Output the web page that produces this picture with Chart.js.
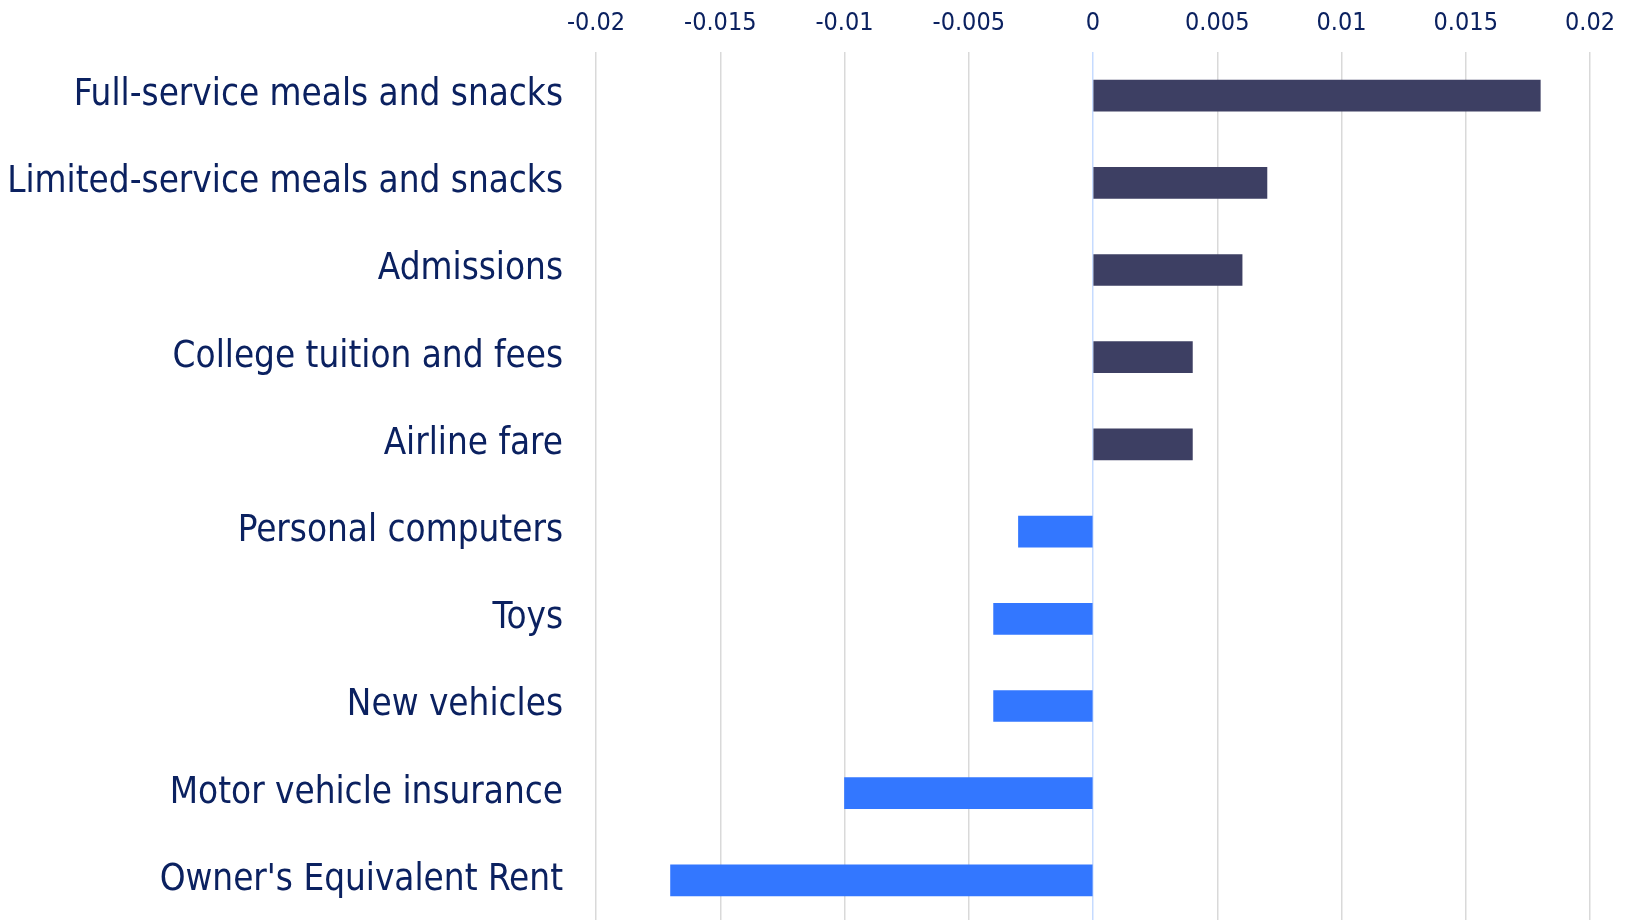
<!DOCTYPE html>
<html>
<head>
<meta charset="utf-8">
<script src="https://cdn.jsdelivr.net/npm/chart.js@4.4.1/dist/chart.umd.min.js"></script>
<style>
  html, body { margin: 0; padding: 0; background: #fff; overflow: hidden; }
  /* a few px taller than the window: the plot runs off the bottom edge like the original */
  #wrap { width: 1632px; height: 924px; }
</style>
</head>
<body>
<div id="wrap"><canvas id="chart"></canvas></div>
<script>
// Contribution by category
const categories = [
  "Full-service meals and snacks",
  "Limited-service meals and snacks",
  "Admissions",
  "College tuition and fees",
  "Airline fare",
  "Personal computers",
  "Toys",
  "New vehicles",
  "Motor vehicle insurance",
  "Owner's Equivalent Rent"
]
const values = [0.018, 0.007, 0.006, 0.004, 0.004, -0.003, -0.004, -0.004, -0.01, -0.017]
const xTicks = [-0.02, -0.015, -0.01, -0.005, 0, 0.005, 0.01, 0.015, 0.02]

const POS = "#3d3f63"
const NEG = "#3377ff"
const TEXT = "#0b2160"
const FONT = "'DejaVu Sans Condensed', 'DejaVu Sans', sans-serif"

new Chart(document.getElementById("chart"), {
  type: "bar",
  data: {
    labels: categories,
    datasets: [{
      data: values,
      backgroundColor: values.map(v => v >= 0 ? POS : NEG),
      barThickness: 31
    }]
  },
  options: {
    indexAxis: "y",
    responsive: true,
    maintainAspectRatio: false,
    animation: false,
    layout: { padding: { left: 0, right: 42, top: 0, bottom: 0 } },
    plugins: {
      legend: { display: false },
      tooltip: { enabled: false }
    },
    scales: {
      x: {
        position: "top",
        min: -0.02,
        max: 0.02,
        afterBuildTicks: (axis) => { axis.ticks = xTicks.map(v => ({ value: v })) },
        afterFit: (axis) => { axis.height = 52 },
        ticks: {
          color: TEXT,
          font: { family: FONT, size: 25 },
          padding: 14,
          maxRotation: 0,
          callback: (v) => String(v)
        },
        grid: {
          drawTicks: false,
          lineWidth: 1.5,
          color: (ctx) => ctx.tick && ctx.tick.value === 0 ? "#c6dbff" : "#d9d9d9"
        },
        border: { display: false }
      },
      y: {
        afterFit: (axis) => {
          axis.width = 596
          // keep the label padding from shrinking the plot vertically
          axis.paddingTop = 0
          axis.paddingBottom = 0
        },
        ticks: {
          color: TEXT,
          font: { family: FONT, size: 36.5 },
          padding: 25
        },
        grid: { display: false },
        border: { display: false }
      }
    }
  }
})
</script>
</body>
</html>
